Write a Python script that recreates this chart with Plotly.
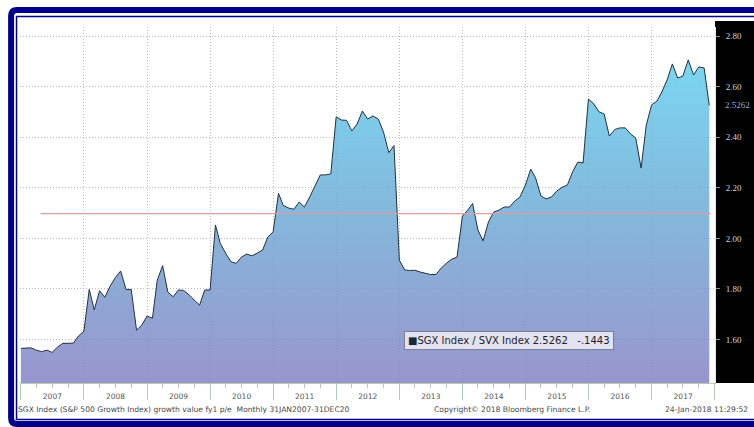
import plotly.graph_objects as go
import pandas as pd

# ---------------- data ----------------
values = [
    1.565, 1.566, 1.567, 1.558, 1.552, 1.558, 1.549, 1.570, 1.585, 1.585, 1.586, 1.614,
    1.633, 1.798, 1.717, 1.793, 1.767, 1.811, 1.845, 1.871, 1.798, 1.798, 1.637, 1.657,
    1.693, 1.684, 1.835, 1.892, 1.788, 1.769, 1.796, 1.794, 1.777, 1.756, 1.736, 1.796,
    1.796, 2.053, 1.980, 1.941, 1.908, 1.901, 1.926, 1.938, 1.931, 1.942, 1.954, 2.005,
    2.026, 2.178, 2.130, 2.120, 2.115, 2.144, 2.124, 2.164, 2.207, 2.251, 2.251, 2.255,
    2.481, 2.468, 2.467, 2.425, 2.452, 2.504, 2.472, 2.484, 2.472, 2.421, 2.339, 2.367,
    1.914, 1.875, 1.873, 1.874, 1.867, 1.862, 1.857, 1.857, 1.883, 1.902, 1.918, 1.926,
    2.088, 2.112, 2.138, 2.033, 1.990, 2.065, 2.104, 2.112, 2.124, 2.124, 2.148, 2.164,
    2.211, 2.274, 2.239, 2.168, 2.156, 2.164, 2.187, 2.202, 2.211, 2.263, 2.302, 2.298,
    2.551, 2.532, 2.501, 2.492, 2.405, 2.430, 2.437, 2.437, 2.413, 2.397, 2.278, 2.448,
    2.528, 2.543, 2.579, 2.627, 2.690, 2.634, 2.642, 2.706, 2.646, 2.678, 2.674, 2.526,
]
dates = pd.date_range("2007-01-01", periods=len(values), freq="MS")

y_ticks = [1.60, 1.80, 2.00, 2.20, 2.40, 2.60, 2.80]
y_tick_labels = ["1.60", "1.80", "2.00", "2.20", "2.40", "2.60", "2.80"]

avg_value = 2.0975
avg_span = ["2007-04-25", "2017-12-08"]

series_name = "SGX Index / SVX Index"
last_value = "2.5262"
last_change = "-.1443"

footer_left = "SGX Index (S&P 500 Growth Index) growth value fy1 p/e  Monthly 31JAN2007-31DEC20"
footer_mid = "Copyright\u00a9 2018 Bloomberg Finance L.P."
footer_right = "24-Jan-2018 11:29:52"

# ---------------- layout geometry ----------------
W, H = 754, 427
L, R, T, B = 20, 32, 27, 44
PW, PH = W - L - R, H - T - B
BOTTOM = H - B


def px(x):
    return (x - L) / PW


def py(y):
    return (BOTTOM - y) / PH


def path(points):
    parts = []
    for cmd, x, y in points:
        parts.append(f"{cmd}{px(x):.5f},{py(y):.5f}")
    return " ".join(parts)


NAVY = "#00008a"

fig = go.Figure()

fig.add_trace(go.Scatter(
    x=dates, y=values, mode="lines",
    line=dict(color="#22303e", width=1.0),
    fill="tozeroy",
    fillgradient=dict(
        type="vertical",
        colorscale=[[0, "rgba(130,127,194,0.82)"],
                    [0.5, "rgba(104,170,214,0.82)"],
                    [1, "rgba(90,214,242,0.82)"]],
        start=1.43, stop=2.84,
    ),
    showlegend=False, hoverinfo="skip",
))

fig.add_trace(go.Scatter(
    x=avg_span, y=[avg_value, avg_value], mode="lines",
    line=dict(color="#dc9e9e", width=1.3),
    showlegend=False, hoverinfo="skip",
))

shapes = [
    # black y-axis panel
    dict(type="rect", xref="paper", yref="paper",
         x0=1.0, x1=px(770), y0=0, y1=py(21),
         fillcolor="black", line=dict(width=0), layer="below"),
    # outer thick rounded border
    dict(type="path", xref="paper", yref="paper",
         path=path([("M", 790, 10), ("L", 17, 10), ("Q", 11, 10), ("", 11, 16),
                    ("L", 11, 418), ("Q", 11, 424), ("", 17, 424), ("L", 790, 424)]),
         line=dict(color=NAVY, width=6), layer="above"),
    # inner thin border
    dict(type="path", xref="paper", yref="paper",
         path=path([("M", 790, 16.5), ("L", 16.5, 16.5),
                    ("L", 16.5, 419.5), ("L", 790, 419.5)]),
         line=dict(color=NAVY, width=1.5), layer="above"),
]

annotations = [
    dict(xref="paper", yref="paper", x=px(514), y=py(340), xanchor="center", yanchor="middle",
         text="<span style='color:#1b2836'>\u25a0</span>" + series_name + " " + last_value
              + "&nbsp;&nbsp;&nbsp;" + last_change,
         showarrow=False, font=dict(family="DejaVu Sans", size=10, color="#1e1e2a"),
         bgcolor="rgba(232,232,242,0.92)", bordercolor="#7f7f92", borderwidth=1, borderpad=3),
    dict(xref="paper", yref="y", x=1.0, xanchor="left", xshift=8, y=2.5262, yanchor="middle",
         text=last_value, showarrow=False,
         font=dict(family="Liberation Serif", size=9, color="#93acd8")),
    dict(xref="paper", yref="paper", x=px(16), y=py(409), xanchor="left", yanchor="middle",
         text=footer_left, showarrow=False,
         font=dict(family="DejaVu Sans", size=7.6, color="#4a4a4a")),
    dict(xref="paper", yref="paper", x=px(436), y=py(409), xanchor="left", yanchor="middle",
         text=footer_mid, showarrow=False,
         font=dict(family="DejaVu Sans", size=7.6, color="#4a4a4a")),
    dict(xref="paper", yref="paper", x=px(669), y=py(409), xanchor="left", yanchor="middle",
         text=footer_right, showarrow=False,
         font=dict(family="DejaVu Sans", size=7.6, color="#4a4a4a")),
]

fig.update_layout(
    width=W, height=H,
    margin=dict(l=L, r=R, t=T, b=B, pad=0),
    paper_bgcolor="white", plot_bgcolor="white",
    shapes=shapes, annotations=annotations,
    showlegend=False,
    xaxis=dict(
        type="date", range=["2006-12-27", "2018-01-03"],
        tick0="2007-01-01", dtick="M12", tickformat="%Y", ticklabelmode="period",
        showgrid=True, gridcolor="#bcbcbc", griddash="1px,2px", gridwidth=1,
        ticks="outside", ticklen=16, tickcolor="#b3cbb3", tickwidth=1,
        minor=dict(ticks="outside", ticklen=4, dtick="M3", tickcolor="#b3cbb3", showgrid=False),
        showline=True, linecolor="#b3cbb3", linewidth=1,
        tickfont=dict(family="DejaVu Sans", size=7.5, color="#555555"),
        ticklabelstandoff=-10, zeroline=False,
    ),
    yaxis=dict(
        side="right", range=[1.428, 2.836],
        tickmode="array", tickvals=y_ticks, ticktext=y_tick_labels,
        showgrid=True, gridcolor="#bcbcbc", griddash="1px,2px", gridwidth=1,
        ticks="outside", ticklen=4, tickcolor="#8a8a8a",
        tickfont=dict(family="Liberation Serif", size=9, color="#d4d4d4"),
        ticklabelstandoff=4, zeroline=False,
        showline=True, linecolor="#e6e6e6", linewidth=1,
    ),
)

fig.write_html("out.html")
